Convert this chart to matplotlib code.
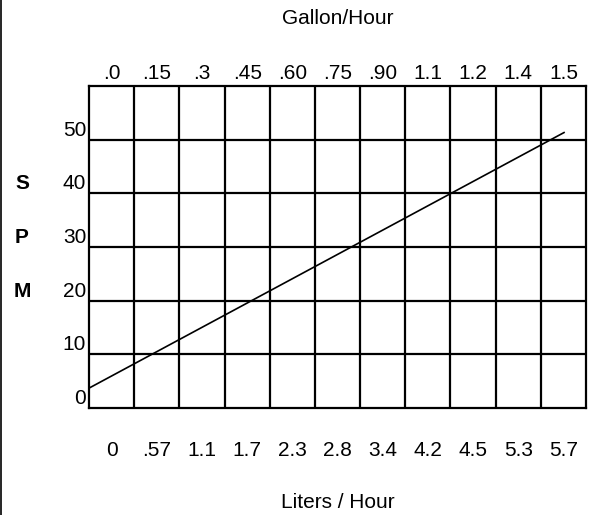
import matplotlib.pyplot as plt
import matplotlib.transforms as mtransforms
from matplotlib.lines import Line2D

plt.rcParams['font.family'] = ['Liberation Sans', 'DejaVu Sans']

# данные
gal_labels = ['.0', '.15', '.3', '.45', '.60', '.75', '.90', '1.1', '1.2', '1.4', '1.5']
lit_labels = ['0', '.57', '1.1', '1.7', '2.3', '2.8', '3.4', '4.2', '4.5', '5.3', '5.7']
spm_ticks = [0, 10, 20, 30, 40, 50]
line_x = [0, 10.53]
line_y = [3.7, 51.4]

W, H = 589, 515
fig = plt.figure(figsize=(W / 100, H / 100), dpi=100)
ax = fig.add_axes([89 / W, 1 - 408 / H, (586 - 89) / W, (408 - 86) / H])

n = len(gal_labels)
ax.set_xlim(0, n)
ax.set_ylim(0, 60)

# сетка
for xv in range(1, n):
    ax.axvline(xv, color='black', lw=1.6)
for yv in spm_ticks[1:]:
    ax.axhline(yv, color='black', lw=1.6)
for s in ax.spines.values():
    s.set_linewidth(1.6)

ax.plot(line_x, line_y, color='black', lw=1.2, solid_capstyle='butt')

# подписи
centers = [i + 0.5 for i in range(n)]
ax.set_xticks(centers)
ax.set_xticklabels(lit_labels, fontsize=15)
ax.tick_params(axis='x', length=0, pad=23.5)

top = ax.secondary_xaxis('top')
top.set_xticks(centers)
top.set_xticklabels(gal_labels, fontsize=15)
top.tick_params(length=0, pad=2)
top.spines['top'].set_visible(False)

ax.set_yticks(spm_ticks)
ax.set_yticklabels([str(v) for v in spm_ticks], fontsize=15)
ax.tick_params(axis='y', length=0, pad=2)
for t in ax.get_yticklabels():
    t.set_verticalalignment('bottom')

tr = mtransforms.blended_transform_factory(fig.transFigure, ax.transData)
for letter, yv in zip(['S', 'P', 'M'], [40, 30, 20]):
    ax.text(22 / W, yv, letter, transform=tr, ha='center', va='bottom',
            fontsize=15, fontweight='bold')

fig.text(337.5 / W, 1 - 19 / H, 'Gallon/Hour', ha='center', va='center', fontsize=15)
fig.text(337.5 / W, 1 - 503 / H, 'Liters / Hour', ha='center', va='center', fontsize=15)

fig.add_artist(Line2D([1 / W, 1 / W], [0, 1], transform=fig.transFigure,
                      color='black', lw=1.2))

fig.savefig('out.png', dpi=100)
